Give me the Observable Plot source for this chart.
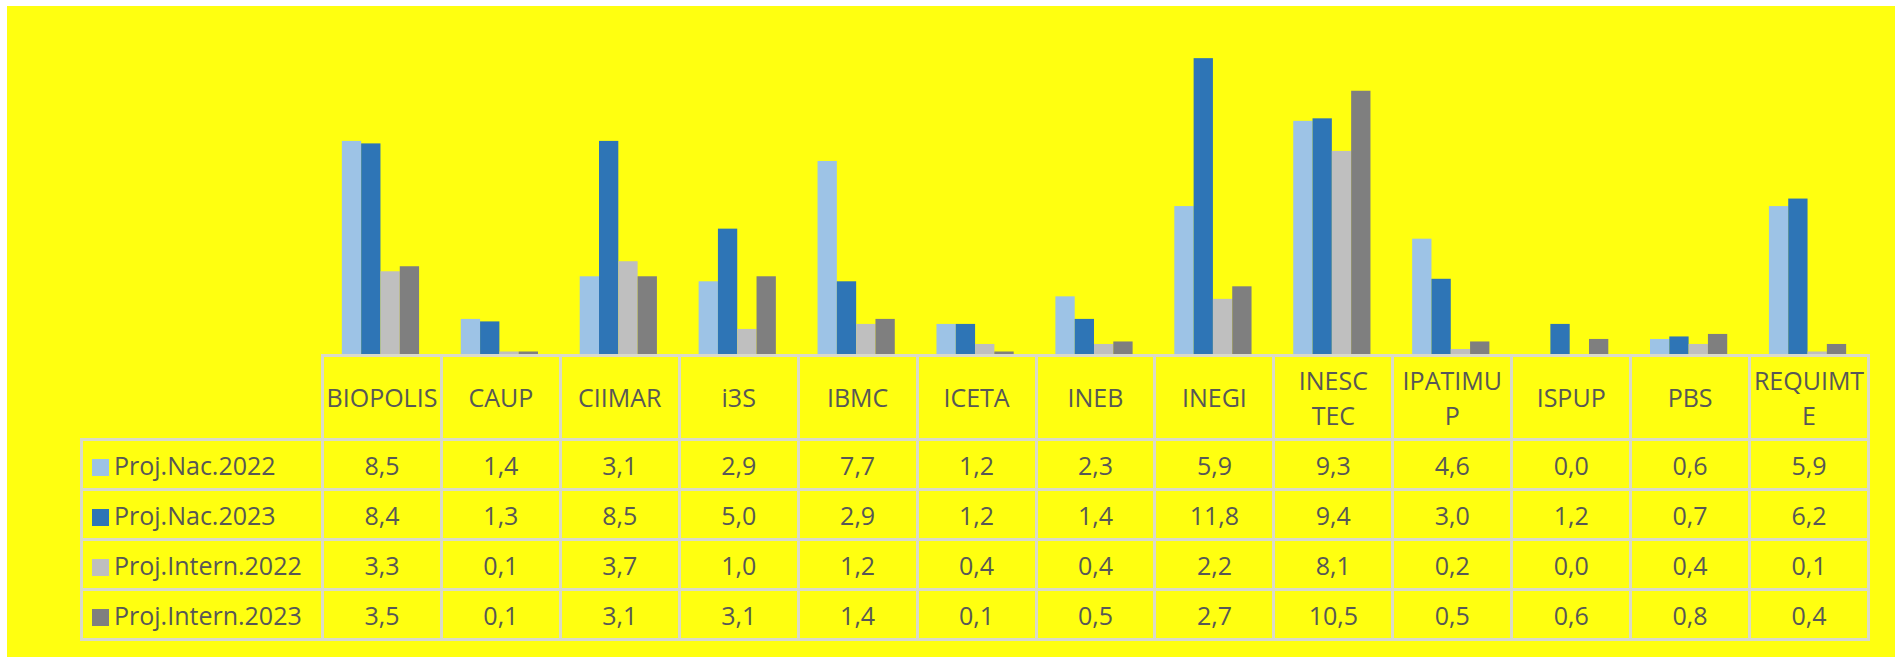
<!DOCTYPE html>
<html>
<head>
<meta charset="utf-8">
<script src="https://cdn.jsdelivr.net/npm/d3@7"></script>
<script src="https://cdn.jsdelivr.net/npm/@observablehq/plot@0.6"></script>
<style>
  html, body { margin: 0; padding: 0; background: #ffffff; width: 1895px; height: 657px; overflow: hidden; }
  #panel { position: absolute; left: 7px; top: 6px; right: 0; bottom: 0; background: #FFFF10; }
  #chart { position: absolute; left: 321px; top: 3px; }
  #chart svg { background: transparent; overflow: visible; }
  #tbl { position: absolute; left: 80px; top: 354px; border-collapse: collapse; table-layout: fixed;
         font-family: "Open Sans", sans-serif; font-size: 25px; color: #575757; }
  #tbl td { border: 3px solid #DADAC8; padding: 0; text-align: center; vertical-align: middle; white-space: pre; overflow: visible; }
  #tbl tr.head td { height: 81px; line-height: 35px; }
  #tbl tr.row td { height: 47px; line-height: 30px; }
  #tbl td.corner { border-top: 3px hidden; border-left: 3px hidden; }
  #tbl td.lab { text-align: left; padding-left: 9px; }
  .sw { display: inline-block; width: 17px; height: 17px; margin-right: 5px; vertical-align: -1px; }
</style>
</head>
<body>
<div id="panel"></div>
<div id="chart"></div>
<table id="tbl"></table>
<script>
// ---- data ----
const categories = ["BIOPOLIS","CAUP","CIIMAR","i3S","IBMC","ICETA","INEB","INEGI","INESC TEC","IPATIMUP","ISPUP","PBS","REQUIMTE"];
const categoryLabels = ["BIOPOLIS","CAUP","CIIMAR","i3S","IBMC","ICETA","INEB","INEGI","INESC\nTEC","IPATIMU\nP","ISPUP","PBS","REQUIMT\nE"];
const seriesNames = ["Proj.Nac.2022","Proj.Nac.2023","Proj.Intern.2022","Proj.Intern.2023"];
const projNac2022    = [8.5, 1.4, 3.1, 2.9, 7.7, 1.2, 2.3, 5.9, 9.3, 4.6, 0.0, 0.6, 5.9];
const projNac2023    = [8.4, 1.3, 8.5, 5.0, 2.9, 1.2, 1.4, 11.8, 9.4, 3.0, 1.2, 0.7, 6.2];
const projIntern2022 = [3.3, 0.1, 3.7, 1.0, 1.2, 0.4, 0.4, 2.2, 8.1, 0.2, 0.0, 0.4, 0.1];
const projIntern2023 = [3.5, 0.1, 3.1, 3.1, 1.4, 0.1, 0.5, 2.7, 10.5, 0.5, 0.6, 0.8, 0.4];
const seriesColors = ["#9DC3E6", "#2E75B6", "#BFBFBF", "#7F7F7F"];

const seriesValues = [projNac2022, projNac2023, projIntern2022, projIntern2023];
const data = [];
seriesNames.forEach((s, i) => categories.forEach((c, j) => data.push({series: s, cat: c, value: seriesValues[i][j]})));

// ---- chart ----
const colW = 1546 / categories.length;
const chart = Plot.plot({
  width: 1546,
  height: 351,
  margin: 0,
  style: {background: "transparent"},
  fx: {domain: categories, padding: 0, round: false, axis: null},
  x: {domain: seriesNames, paddingInner: 0, paddingOuter: 1.08, round: false, axis: null},
  y: {domain: [0, 14], axis: null},
  color: {domain: seriesNames, range: seriesColors},
  marks: [
    Plot.barY(data, {fx: "cat", x: "series", y: "value", fill: "series", inset: 0})
  ]
});
document.getElementById("chart").appendChild(chart);

// ---- data table ----
const fmt = v => v.toFixed(1).replace(".", ",");
const tbl = document.getElementById("tbl");
const cg = document.createElement("colgroup");
const c0 = document.createElement("col"); c0.style.width = "241px"; cg.appendChild(c0);
categories.forEach(() => { const c = document.createElement("col"); c.style.width = colW + "px"; cg.appendChild(c); });
tbl.appendChild(cg);
tbl.style.width = (241 + 1546) + "px";

const hr = document.createElement("tr"); hr.className = "head";
const corner = document.createElement("td"); corner.className = "corner"; hr.appendChild(corner);
categoryLabels.forEach(l => { const td = document.createElement("td"); td.textContent = l; hr.appendChild(td); });
tbl.appendChild(hr);

seriesNames.forEach((s, i) => {
  const tr = document.createElement("tr"); tr.className = "row";
  const lab = document.createElement("td"); lab.className = "lab";
  const sw = document.createElement("span"); sw.className = "sw"; sw.style.background = seriesColors[i];
  lab.appendChild(sw); lab.appendChild(document.createTextNode(s));
  tr.appendChild(lab);
  seriesValues[i].forEach(v => { const td = document.createElement("td"); td.textContent = fmt(v); tr.appendChild(td); });
  tbl.appendChild(tr);
});
</script>
</body>
</html>
